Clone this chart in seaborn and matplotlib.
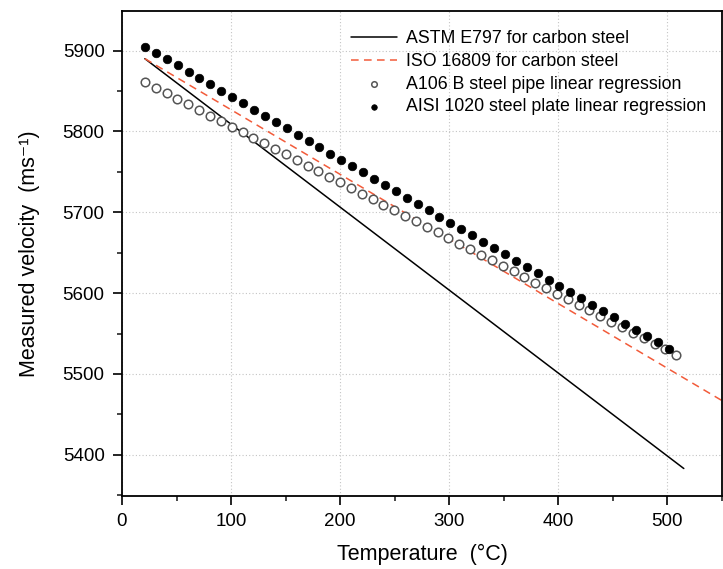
import matplotlib
matplotlib.use("Agg")
import matplotlib.pyplot as plt
import seaborn as sns
import numpy as np
import pandas as pd
from matplotlib.ticker import MultipleLocator

# ---- data ----
astm_T = [21, 515]
astm_v = [5890, 5383]

iso_T = [21, 550]
iso_v = [5890, 5467]

pipe_T = [21.0, 30.9, 40.9, 50.8, 60.8, 70.7, 80.6, 90.6, 100.5, 110.5,
          120.4, 130.3, 140.3, 150.2, 160.2, 170.1, 180.0, 190.0, 199.9, 209.9,
          219.8, 229.7, 239.7, 249.6, 259.6, 269.5, 279.4, 289.4, 299.3, 309.3,
          319.2, 329.1, 339.1, 349.0, 359.0, 368.9, 378.8, 388.8, 398.7, 408.7,
          418.6, 428.5, 438.5, 448.4, 458.4, 468.3, 478.2, 488.2, 498.1, 508.1]
pipe_v = [5861.0, 5854.1, 5847.2, 5840.3, 5833.4, 5826.6, 5819.7, 5812.8, 5805.9, 5799.0,
          5792.1, 5785.2, 5778.3, 5771.5, 5764.6, 5757.7, 5750.8, 5743.9, 5737.0, 5730.1,
          5723.2, 5716.3, 5709.5, 5702.6, 5695.7, 5688.8, 5681.9, 5675.0, 5668.1, 5661.2,
          5654.4, 5647.5, 5640.6, 5633.7, 5626.8, 5619.9, 5613.0, 5606.1, 5599.2, 5592.4,
          5585.5, 5578.6, 5571.7, 5564.8, 5557.9, 5551.0, 5544.1, 5537.2, 5530.4, 5523.5]

plate_T = [21, 31, 41, 51, 61, 71, 81, 91, 101, 111,
           121, 131, 141, 151, 161, 171, 181, 191, 201, 211,
           221, 231, 241, 251, 261, 271, 281, 291, 301, 311,
           321, 331, 341, 351, 361, 371, 381, 391, 401, 411,
           421, 431, 441, 451, 461, 471, 481, 491, 501]
plate_v = [5905.0, 5897.2, 5889.4, 5881.6, 5873.8, 5866.1, 5858.3, 5850.5, 5842.7, 5834.9,
           5827.1, 5819.3, 5811.5, 5803.7, 5795.9, 5788.2, 5780.4, 5772.6, 5764.8, 5757.0,
           5749.2, 5741.4, 5733.6, 5725.8, 5718.0, 5710.3, 5702.5, 5694.7, 5686.9, 5679.1,
           5671.3, 5663.5, 5655.7, 5647.9, 5640.1, 5632.4, 5624.6, 5616.8, 5609.0, 5601.2,
           5593.4, 5585.6, 5577.8, 5570.0, 5562.2, 5554.5, 5546.7, 5538.9, 5531.1]

labels = ["ASTM E797 for carbon steel",
          "ISO 16809 for carbon steel",
          "A106 B steel pipe linear regression",
          "AISI 1020 steel plate linear regression"]

sns.set_theme(style="ticks")
plt.rcParams['font.family'] = ['Liberation Sans', 'DejaVu Sans']
plt.rcParams['text.color'] = 'black'
plt.rcParams['axes.labelcolor'] = 'black'

fig = plt.figure(figsize=(7.23, 5.69), dpi=100)
ax = fig.add_axes([0.1687, 0.1283, 0.8299, 0.8524])

sns.lineplot(x=astm_T, y=astm_v, ax=ax, color="black", lw=1.1, label=labels[0])
sns.lineplot(x=iso_T, y=iso_v, ax=ax, color="#f25b3a", lw=1.1, label=labels[1])
ax.lines[-1].set_linestyle((0, (5, 3.5)))
sns.scatterplot(x=pipe_T, y=pipe_v, ax=ax, marker="o", s=38, facecolor="white",
                edgecolor="#555555", linewidth=1.1, label=labels[2], zorder=3)
sns.scatterplot(x=plate_T, y=plate_v, ax=ax, marker="o", s=38, color="black",
                edgecolor="black", linewidth=0.5, label=labels[3], zorder=4)

ax.set_xlim(0, 550)
ax.set_ylim(5349, 5949)
ax.xaxis.set_major_locator(MultipleLocator(100))
ax.xaxis.set_minor_locator(MultipleLocator(50))
ax.yaxis.set_major_locator(MultipleLocator(100))
ax.yaxis.set_minor_locator(MultipleLocator(50))
ax.tick_params(which="major", direction="out", length=6.5, width=1.2, labelsize=13.5,
               colors="black", pad=6)
ax.tick_params(which="minor", direction="out", length=3.5, width=1.2)
ax.grid(True, which="major", linestyle=(0, (1, 2)), color="#c4c4c4", lw=0.8)
for s in ax.spines.values():
    s.set_linewidth(1.3)
    s.set_color("black")

ax.set_xlabel("Temperature  (°C)", fontsize=15.5, labelpad=10)
ax.set_ylabel("Measured velocity  (ms⁻¹)", fontsize=15.5, labelpad=16)

leg = ax.legend(loc="upper right", frameon=False, fontsize=12.8, markerscale=0.65,
                handlelength=2.6, handletextpad=0.5, labelspacing=0.32,
                bbox_to_anchor=(1.0, 0.993))

fig.savefig("out.png", dpi=100)
